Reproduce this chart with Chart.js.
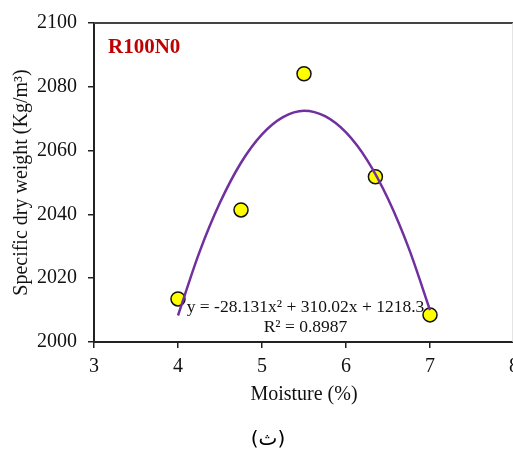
<!DOCTYPE html>
<html>
<head>
<meta charset="utf-8">
<script src="https://cdn.jsdelivr.net/npm/chart.js@4"></script>
<style>
  html, body { margin: 0; padding: 0; background: #fff; overflow: hidden; width: 513px; height: 451px; }
  #wrap { position: absolute; left: 0; top: 0; width: 530px; height: 451px; }
</style>
</head>
<body>
<div id="wrap"><canvas id="c" width="530" height="451"></canvas></div>
<script>
// Measured points (moisture %, specific dry weight)
const moisture = [4.0, 4.75, 5.5, 6.35, 7.0];
const dryWeight = [2013.5, 2041.4, 2084.1, 2051.8, 2008.5];

// Trendline as drawn
const trendX = [4.0, 4.25, 4.5, 4.75, 5.0, 5.25, 5.5, 5.75, 6.0, 6.25, 6.5, 6.75, 7.0];
const trendY = [2008.3, 2027.8, 2043.7, 2056.2, 2065.1, 2070.5, 2072.5, 2070.8, 2065.7, 2057.1, 2044.9, 2029.2, 2010.0];

const xTicks = [3, 4, 5, 6, 7, 8];
const yTicks = [2000, 2020, 2040, 2060, 2080, 2100];

const sampleLabel = 'R100N0';
const equationLines = ['y = -28.131x\u00B2 + 310.02x + 1218.3', 'R\u00B2 = 0.8987'];
const caption = '(\u062B)';
const xTitle = 'Moisture (%)';
const yTitle = 'Specific dry weight (Kg/m\u00B3)';

const serif = '"Liberation Serif", "Times New Roman", serif';

const annotPlugin = {
  id: 'annot',
  afterDraw(chart) {
    const {ctx, chartArea, scales} = chart;
    const xs = scales.x, ys = scales.y;
    ctx.save();
    // top frame line
    ctx.strokeStyle = '#444';
    ctx.lineWidth = 2;
    ctx.beginPath();
    ctx.moveTo(chartArea.left, chartArea.top);
    ctx.lineTo(chartArea.right, chartArea.top);
    ctx.stroke();
    // light right edge
    ctx.strokeStyle = '#d8d8d8';
    ctx.lineWidth = 1;
    ctx.beginPath();
    ctx.moveTo(xs.getPixelForValue(7.98) + 0.5, chartArea.top);
    ctx.lineTo(xs.getPixelForValue(7.98) + 0.5, chartArea.bottom);
    ctx.stroke();

    // sample label
    ctx.fillStyle = '#C00000';
    ctx.font = 'bold 21px ' + serif;
    ctx.textAlign = 'left';
    ctx.textBaseline = 'middle';
    ctx.fillText(sampleLabel, xs.getPixelForValue(3.167), ys.getPixelForValue(2092.2));

    // equation
    ctx.fillStyle = '#111';
    ctx.font = '17.5px ' + serif;
    ctx.textAlign = 'center';
    ctx.fillText(equationLines[0], xs.getPixelForValue(5.518), ys.getPixelForValue(2010.9));
    ctx.fillText(equationLines[1], xs.getPixelForValue(5.518), ys.getPixelForValue(2004.7));

    // caption
    ctx.fillStyle = '#000';
    ctx.font = '20px "DejaVu Sans", "Noto Sans", sans-serif';
    ctx.fillText(caption, 268, 440);
    ctx.restore();
  }
};

new Chart(document.getElementById('c'), {
  type: 'scatter',
  data: {
    datasets: [
      {
        type: 'line',
        data: trendX.map((x, i) => ({x: x, y: trendY[i]})),
        borderColor: '#7030A0',
        borderWidth: 2.5,
        pointRadius: 0,
        fill: false,
        cubicInterpolationMode: 'monotone',
        order: 0
      },
      {
        data: moisture.map((x, i) => ({x: x, y: dryWeight[i]})),
        backgroundColor: '#FFFF00',
        borderColor: '#111',
        borderWidth: 1.5,
        pointRadius: 7,
        order: 1
      }
    ]
  },
  options: {
    responsive: false,
    animation: false,
    devicePixelRatio: 1,
    layout: { padding: { left: 0, right: 16, top: 22, bottom: 0 } },
    plugins: { legend: { display: false }, tooltip: { enabled: false } },
    scales: {
      x: {
        type: 'linear',
        min: 3, max: 8,
        afterBuildTicks(s) { s.ticks = xTicks.map(v => ({value: v})); },
        afterFit(s) { s.height = 109; },
        grid: { drawOnChartArea: false, drawTicks: true, tickLength: 6, color: '#222', lineWidth: 1.5 },
        border: { display: true, color: '#222', width: 2 },
        ticks: { color: '#111', font: { family: serif, size: 20 }, padding: 7, maxRotation: 0, callback: v => String(v) },
        title: { display: true, text: xTitle, color: '#111', font: { family: serif, size: 20 }, padding: { top: 0, bottom: 44 } }
      },
      y: {
        type: 'linear',
        min: 2000, max: 2100,
        afterBuildTicks(s) { s.ticks = yTicks.map(v => ({value: v})); },
        afterFit(s) { s.width = 94; },
        grid: { drawOnChartArea: false, drawTicks: true, tickLength: 6, color: '#222', lineWidth: 1.5 },
        border: { display: true, color: '#222', width: 2 },
        ticks: { color: '#111', font: { family: serif, size: 20 }, padding: 11, callback: v => String(v) },
        title: { display: true, text: yTitle, color: '#111', font: { family: serif, size: 20 }, padding: { top: 10, bottom: 0 } }
      }
    }
  },
  plugins: [annotPlugin]
});
</script>
</body>
</html>
